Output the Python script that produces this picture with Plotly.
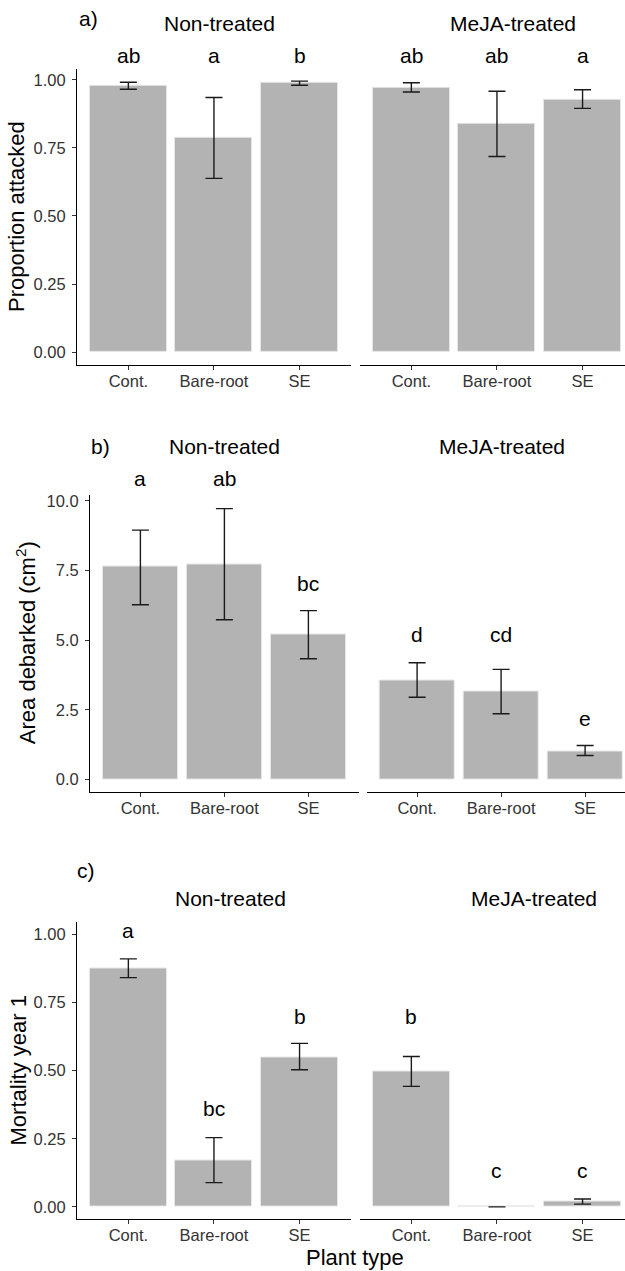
import plotly.graph_objects as go

W, H = 625, 1271

plant_types = ["Cont.", "Bare-root", "SE"]

# a) proportion of plants attacked
attacked_non = [0.979, 0.786, 0.988]
attacked_non_lo = [0.965, 0.638, 0.980]
attacked_non_hi = [0.991, 0.935, 0.995]
attacked_meja = [0.972, 0.838, 0.928]
attacked_meja_lo = [0.955, 0.718, 0.895]
attacked_meja_hi = [0.989, 0.958, 0.963]
attacked_letters_non = ["ab", "a", "b"]
attacked_letters_meja = ["ab", "ab", "a"]
attacked_letter_y_non = [1.056, 1.056, 1.056]
attacked_letter_y_meja = [1.056, 1.056, 1.056]

# b) area debarked (cm2)
debarked_non = [7.64, 7.73, 5.21]
debarked_non_lo = [6.27, 5.73, 4.33]
debarked_non_hi = [8.95, 9.72, 6.06]
debarked_meja = [3.55, 3.15, 1.02]
debarked_meja_lo = [2.95, 2.36, 0.86]
debarked_meja_hi = [4.19, 3.95, 1.22]
debarked_letters_non = ["a", "ab", "bc"]
debarked_letters_meja = ["d", "cd", "e"]
debarked_letter_y_non = [10.48, 10.48, 6.74]
debarked_letter_y_meja = [4.89, 4.89, 1.90]

# c) mortality in year 1
mortality_non = [0.875, 0.170, 0.549]
mortality_non_lo = [0.841, 0.089, 0.503]
mortality_non_hi = [0.910, 0.254, 0.600]
mortality_meja = [0.495, 0.0, 0.018]
mortality_meja_lo = [0.442, 0.0, 0.010]
mortality_meja_hi = [0.552, 0.0, 0.029]
mortality_letters_non = ["a", "bc", "b"]
mortality_letters_meja = ["b", "c", "c"]
mortality_letter_y_non = [0.983, 0.330, 0.666]
mortality_letter_y_meja = [0.666, 0.104, 0.104]

FONT = "Liberation Sans, Arial, sans-serif"
BAR = "#B3B3B3"
TICK_SIZE = 16.5
TEXT_SIZE = 21
AXIS_TITLE_SIZE = 22


def px_x(p):
    return p / W


def px_y(p):
    return 1 - p / H


fig = go.Figure()

panels = [
    dict(
        non=(attacked_non, attacked_non_lo, attacked_non_hi),
        meja=(attacked_meja, attacked_meja_lo, attacked_meja_hi),
        letters=(attacked_letters_non, attacked_letters_meja),
        letter_y=(attacked_letter_y_non, attacked_letter_y_meja),
        xl=(77, 351), xr=(360, 625), step=85.6, yd=(66, 363),
        yr=[-0.0476, 1.040], tickvals=[0, 0.25, 0.5, 0.75, 1.0], fmt="{:.2f}",
        ytitle="Proportion attacked", ytitle_x=17,
        tag=("a)", 88, 16), strip_y=21, strip_x=(219, 513),
    ),
    dict(
        non=(debarked_non, debarked_non_lo, debarked_non_hi),
        meja=(debarked_meja, debarked_meja_lo, debarked_meja_hi),
        letters=(debarked_letters_non, debarked_letters_meja),
        letter_y=(debarked_letter_y_non, debarked_letter_y_meja),
        xl=(90, 358.8), xr=(366.7, 625), step=84.0, yd=(492.7, 790.7),
        yr=[-0.444, 10.226], tickvals=[0, 2.5, 5.0, 7.5, 10.0], fmt="{:.1f}",
        ytitle="Area debarked (cm<sup>2</sup>)", ytitle_x=26,
        tag=("b)", 100, 445), strip_y=445, strip_x=(224, 502),
    ),
    dict(
        non=(mortality_non, mortality_non_lo, mortality_non_hi),
        meja=(mortality_meja, mortality_meja_lo, mortality_meja_hi),
        letters=(mortality_letters_non, mortality_letters_meja),
        letter_y=(mortality_letter_y_non, mortality_letter_y_meja),
        xl=(77, 351), xr=(360, 625), step=85.6, yd=(920.7, 1219.3),
        yr=[-0.046, 1.047], tickvals=[0, 0.25, 0.5, 0.75, 1.0], fmt="{:.2f}",
        ytitle="Mortality year 1", ytitle_x=18,
        tag=("c)", 86, 870), strip_y=898, strip_x=(230.5, 534),
    ),
]

layout = {}
annotations = []
axis_n = 0
x_pos = list(range(len(plant_types)))

for p in panels:
    y_bottom, y_top = px_y(p["yd"][1]), px_y(p["yd"][0])
    r0, r1 = p["yr"]

    def to_paper(v):
        # data value on this panel's y scale -> paper fraction
        return y_bottom + (v - r0) / (r1 - r0) * (y_top - y_bottom)

    for side, (vals, lo, hi), letters, ly, xdom in (
        ("left", p["non"], p["letters"][0], p["letter_y"][0], p["xl"]),
        ("right", p["meja"], p["letters"][1], p["letter_y"][1], p["xr"]),
    ):
        axis_n += 1
        xa = "x" if axis_n == 1 else f"x{axis_n}"
        ya = "y" if axis_n == 1 else f"y{axis_n}"
        xkey = "xaxis" if axis_n == 1 else f"xaxis{axis_n}"
        ykey = "yaxis" if axis_n == 1 else f"yaxis{axis_n}"

        up = [h - v for v, h in zip(vals, hi)]
        down = [v - l for v, l in zip(vals, lo)]
        fig.add_trace(go.Bar(
            x=x_pos, y=vals, width=0.9, xaxis=xa, yaxis=ya,
            marker=dict(color=BAR, line=dict(color="#E6E6E6", width=1)),
            error_y=dict(type="data", symmetric=False, array=up, arrayminus=down,
                         width=8.5, thickness=1.4, color="#1A1A1A"),
            showlegend=False, hoverinfo="skip",
        ))

        x_hi = -0.6 + (xdom[1] - xdom[0]) / p["step"]
        layout[xkey] = dict(
            domain=[px_x(xdom[0]), px_x(xdom[1])], anchor=ya,
            range=[-0.6, x_hi], tickvals=x_pos, ticktext=plant_types,
            showline=True, linecolor="#000000", linewidth=1.1,
            ticks="outside", ticklen=4, tickcolor="#333333", tickwidth=1.1,
            ticklabelstandoff=-3,
            tickfont=dict(family=FONT, size=TICK_SIZE, color="#333333"),
            showgrid=False, zeroline=False, fixedrange=True,
        )
        ydef = dict(
            domain=[y_bottom, y_top], anchor=xa,
            range=p["yr"], showgrid=False, zeroline=False, fixedrange=True,
        )
        if side == "left":
            ydef.update(
                showline=True, linecolor="#000000", linewidth=1.1,
                ticks="outside", ticklen=4, tickcolor="#333333", tickwidth=1.1,
                ticklabelstandoff=3,
                tickvals=p["tickvals"], ticktext=[p["fmt"].format(v) for v in p["tickvals"]],
                tickfont=dict(family=FONT, size=TICK_SIZE, color="#333333"),
            )
        else:
            ydef.update(showline=False, showticklabels=False, ticks="")
        layout[ykey] = ydef

        # significance letters above each bar, placed on the panel's value scale
        for xi, txt, yv in zip(x_pos, letters, ly):
            x_paper = px_x(xdom[0]) + (xi + 0.6) * p["step"] / W
            annotations.append(dict(
                x=x_paper, y=to_paper(yv), xref="paper", yref="paper", text=txt,
                showarrow=False, xanchor="center", yanchor="bottom", yshift=-5,
                font=dict(family=FONT, size=TEXT_SIZE, color="#000000"),
            ))

    # treatment titles
    for name, cx in zip(["Non-treated", "MeJA-treated"], p["strip_x"]):
        annotations.append(dict(
            x=px_x(cx), y=px_y(p["strip_y"]), xref="paper", yref="paper",
            text=name, showarrow=False, xanchor="center", yanchor="middle",
            font=dict(family=FONT, size=TEXT_SIZE, color="#000000"),
        ))
    # panel tag
    tag, tx, ty = p["tag"]
    annotations.append(dict(
        x=px_x(tx), y=px_y(ty), xref="paper", yref="paper", text=tag,
        showarrow=False, xanchor="center", yanchor="middle",
        font=dict(family=FONT, size=TEXT_SIZE, color="#000000"),
    ))
    # y-axis title
    annotations.append(dict(
        x=px_x(p["ytitle_x"]), y=(y_bottom + y_top) / 2,
        xref="paper", yref="paper", text=p["ytitle"], textangle=-90,
        showarrow=False, xanchor="center", yanchor="middle",
        font=dict(family=FONT, size=AXIS_TITLE_SIZE, color="#000000"),
    ))

annotations.append(dict(
    x=px_x(355), y=px_y(1257), xref="paper", yref="paper", text="Plant type",
    showarrow=False, xanchor="center", yanchor="middle",
    font=dict(family=FONT, size=AXIS_TITLE_SIZE, color="#000000"),
))

fig.update_layout(
    width=W, height=H, margin=dict(l=0, r=0, t=0, b=0),
    paper_bgcolor="white", plot_bgcolor="white",
    annotations=annotations, bargap=0, **layout,
)

fig.write_html("out.html")
